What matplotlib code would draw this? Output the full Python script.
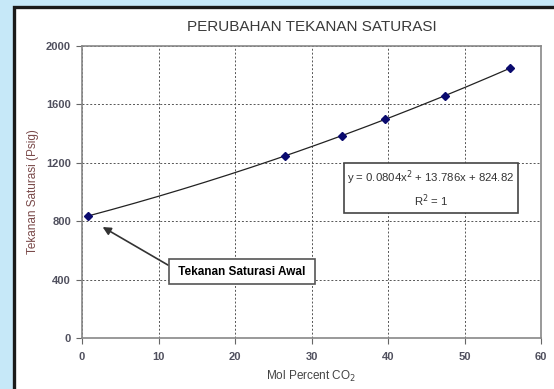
import numpy as np
import matplotlib
matplotlib.use("Agg")
import matplotlib.pyplot as plt
from matplotlib.patches import Rectangle

plt.rcParams['font.family'] = ['Liberation Sans', 'DejaVu Sans']

# Mol percent CO2 vs saturation pressure (psig)
mol_co2 = [0.8, 26.5, 34.0, 39.6, 47.4, 56.0]
p_sat = [836, 1247, 1386, 1497, 1660, 1849]

# Quadratic trend coefficients
coef = [0.0804, 13.786, 824.82]

x_ticks = [0, 10, 20, 30, 40, 50, 60]
y_ticks = [0, 400, 800, 1200, 1600, 2000]

fig = plt.figure(figsize=(5.54, 3.89), dpi=100)
fig.patch.set_facecolor('#c6e8f8')

# White panel with dark frame
fig.patches.append(Rectangle((14 / 554, -0.05), 1.1, 1 - 6.5 / 389 + 0.05,
                             transform=fig.transFigure, facecolor='white',
                             edgecolor='#1a1a1a', linewidth=2.4, zorder=-5))

ax = fig.add_axes([82 / 554, 1 - 338 / 389, (541 - 82) / 554, (338 - 46) / 389])
ax.set_facecolor('white')

xx = np.linspace(mol_co2[0], mol_co2[-1], 200)
ax.plot(xx, np.polyval(coef, xx), color='#222222', lw=0.9, zorder=3)
ax.plot(mol_co2, p_sat, linestyle='none', marker='D', markersize=4,
        color='#0a0a6e', zorder=4)

ax.set_xlim(0, 60)
ax.set_ylim(0, 2000)
ax.set_xticks(x_ticks)
ax.set_yticks(y_ticks)
ax.tick_params(labelsize=8, colors='#666666', labelcolor='#50505e',
               length=4, width=0.8, direction='out')
ax.tick_params(axis='x', pad=6)
ax.tick_params(axis='y', pad=4)
for lab in ax.get_xticklabels() + ax.get_yticklabels():
    lab.set_fontweight('bold')
ax.grid(True, linestyle=(0, (2, 2)), color='#555555', linewidth=0.7)
for s in ax.spines.values():
    s.set_color('#888888')
    s.set_linewidth(1.2)

ax.set_title('PERUBAHAN TEKANAN SATURASI', fontsize=11, color='#3a3a3a', pad=11)
ax.set_xlabel('Mol Percent CO$_2$', fontsize=8.5, color='#444444', labelpad=5)
ax.set_ylabel('Tekanan Saturasi (Psig)', fontsize=8.5, color='#7a4a4a', labelpad=5)

ax.text(45.6, 1020, 'y = 0.0804x$^2$ + 13.786x + 824.82\nR$^2$ = 1',
        ha='center', va='center', fontsize=8.2, color='#333333',
        linespacing=1.4,
        bbox=dict(boxstyle='square,pad=0.3', facecolor='white',
                  edgecolor='#444444', linewidth=1.2), zorder=5)

ax.annotate(' Tekanan Saturasi Awal ', xy=(2.7, 760), xytext=(20.9, 455),
            ha='center', va='center', fontsize=8.5, fontweight='bold',
            color='black',
            bbox=dict(boxstyle='square,pad=0.55', facecolor='white',
                      edgecolor='#555555', linewidth=1.2),
            arrowprops=dict(arrowstyle='-|>', color='#333333', lw=1.2,
                            mutation_scale=12, shrinkA=0, shrinkB=0,
                            relpos=(0, 0.7)),
            zorder=5)

fig.savefig('out.png', dpi=100, facecolor=fig.get_facecolor())
